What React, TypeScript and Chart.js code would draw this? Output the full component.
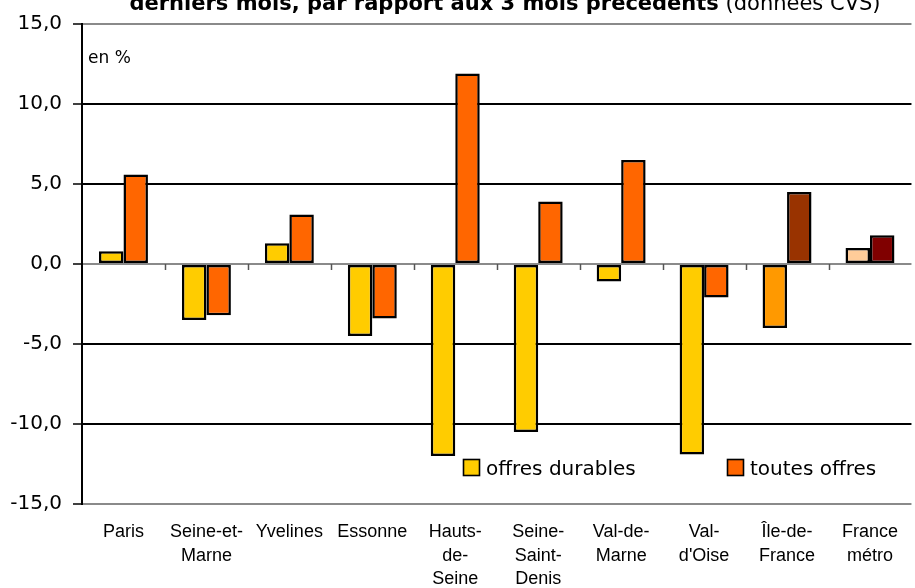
import React, { useEffect, useRef } from "react";
import { Chart, registerables } from "chart.js";

Chart.register(...registerables);

const categories: string[][] = [
  ["Paris"],
  ["Seine-et-", "Marne"],
  ["Yvelines"],
  ["Essonne"],
  ["Hauts-", "de-", "Seine"],
  ["Seine-", "Saint-", "Denis"],
  ["Val-de-", "Marne"],
  ["Val-", "d'Oise"],
  ["Île-de-", "France"],
  ["France", "métro"],
];

const offresDurables = [0.8, -3.5, 1.3, -4.5, -12.0, -10.5, -1.1, -11.9, -4.0, 1.0];
const toutesOffres = [5.6, -3.2, 3.1, -3.4, 11.9, 3.9, 6.5, -2.1, 4.5, 1.8];

const durablesColors = [
  "#FFCC00", "#FFCC00", "#FFCC00", "#FFCC00", "#FFCC00",
  "#FFCC00", "#FFCC00", "#FFCC00", "#FF9900", "#FFCC99",
];
const toutesColors = [
  "#FF6600", "#FF6600", "#FF6600", "#FF6600", "#FF6600",
  "#FF6600", "#FF6600", "#FF6600", "#993300", "#800000",
];

const seriesLabels = ["offres durables", "toutes offres"];
const legendColors = ["#FFCC00", "#FF6600"];

const yMin = -15;
const yMax = 15;
const yStep = 5;

const titleBold = "derniers mois, par rapport aux 3 mois précédents";
const titleNormal = " (données CVS)";
const unitLabel = "en %";

const FONT = "'DejaVu Sans', Verdana, sans-serif";

const decorPlugin = {
  id: "decor",
  beforeDatasetsDraw(chart: any) {
    const ctx = chart.ctx;
    const x = chart.scales.x;
    const y = chart.scales.y;
    const y0 = y.getPixelForValue(0);
    const n = chart.data.labels.length;
    ctx.save();
    ctx.strokeStyle = "#555";
    ctx.lineWidth = 1.5;
    for (let i = 1; i < n; i++) {
      const px = Math.round(x.left + (i * (x.right - x.left)) / n) + 0.5;
      ctx.beginPath();
      ctx.moveTo(px, y0);
      ctx.lineTo(px, y0 + 6);
      ctx.stroke();
    }
    ctx.restore();
  },
  afterDraw(chart: any) {
    const ctx = chart.ctx;
    const area = chart.chartArea;
    ctx.save();
    // title (clipped at the top as in the reference)
    ctx.fillStyle = "#000";
    ctx.textBaseline = "alphabetic";
    ctx.font = `bold 21px ${FONT}`;
    const wB = ctx.measureText(titleBold).width;
    ctx.font = `21px ${FONT}`;
    const wN = ctx.measureText(titleNormal).width;
    const tx = 505 - (wB + wN) / 2;
    ctx.font = `bold 21px ${FONT}`;
    ctx.textAlign = "left";
    ctx.fillText(titleBold, tx, 10);
    ctx.font = `21px ${FONT}`;
    ctx.fillText(titleNormal, tx + wB, 10);

    // unit label
    ctx.font = `17px ${FONT}`;
    ctx.fillText(unitLabel, area.left + 6, 63);

    // legend inside plot
    const items = [
      { x: 463, label: chart.data.datasets[0].label, color: legendColors[0] },
      { x: 727, label: chart.data.datasets[1].label, color: legendColors[1] },
    ];
    ctx.font = `20px ${FONT}`;
    for (const it of items) {
      ctx.fillStyle = it.color;
      ctx.fillRect(it.x, 459, 16, 16);
      ctx.strokeStyle = "#000";
      ctx.lineWidth = 1.6;
      ctx.strokeRect(it.x + 0.5, 459.5, 16, 16);
      ctx.fillStyle = "#000";
      ctx.fillText(it.label, it.x + 23, 475);
    }
    ctx.restore();
  },
};

export default function App() {
  const canvasRef = useRef<HTMLCanvasElement | null>(null);

  useEffect(() => {
    if (!canvasRef.current) return;
    const chart = new Chart(canvasRef.current, {
      type: "bar",
      data: {
        labels: categories,
        datasets: [
          {
            label: seriesLabels[0],
            data: offresDurables,
            backgroundColor: durablesColors,
            borderColor: "#000",
            borderWidth: 2.5,
            borderSkipped: false,
          },
          {
            label: seriesLabels[1],
            data: toutesOffres,
            backgroundColor: toutesColors,
            borderColor: "#000",
            borderWidth: 2.5,
            borderSkipped: false,
          },
        ],
      },
      options: {
        animation: false,
        responsive: true,
        maintainAspectRatio: false,
        layout: { padding: { top: 24, left: 0, right: 0, bottom: 0 } },
        datasets: {
          bar: { categoryPercentage: 0.59, barPercentage: 1 },
        },
        plugins: {
          legend: { display: false },
          tooltip: { enabled: false },
          title: { display: false },
        },
        scales: {
          x: {
            grid: { display: false, drawTicks: false },
            border: { display: false },
            ticks: {
              color: "#000",
              font: { family: "'Liberation Sans', Arial, sans-serif", size: 18, lineHeight: 1.28 },
              padding: 17,
              maxRotation: 0,
              minRotation: 0,
              autoSkip: false,
            },
            afterFit: (scale: any) => {
              scale.height = 84;
            },
          },
          y: {
            min: yMin,
            max: yMax,
            border: { display: true, color: "#000", width: 2 },
            grid: {
              color: (c: any) => {
                const v = c.tick ? c.tick.value : 0;
                if (v === 0 || v === yMin || v === yMax) return "#8a8a8a";
                return "#000";
              },
              lineWidth: 2,
              tickLength: 9,
              tickColor: "#000",
              tickWidth: 1.5,
            },
            ticks: {
              stepSize: yStep,
              color: "#000",
              padding: 11,
              font: { family: FONT, size: 20 },
              callback: (v: any) => Number(v).toFixed(1).replace(".", ","),
            },
            afterFit: (scale: any) => {
              scale.width = 82;
            },
          },
        },
      },
      plugins: [decorPlugin],
    });
    return () => chart.destroy();
  }, []);

  return (
    <div style={{ position: "fixed", left: 0, top: 0, width: 915, height: 588, background: "#fff" }}>
      <canvas ref={canvasRef} />
    </div>
  );
}
